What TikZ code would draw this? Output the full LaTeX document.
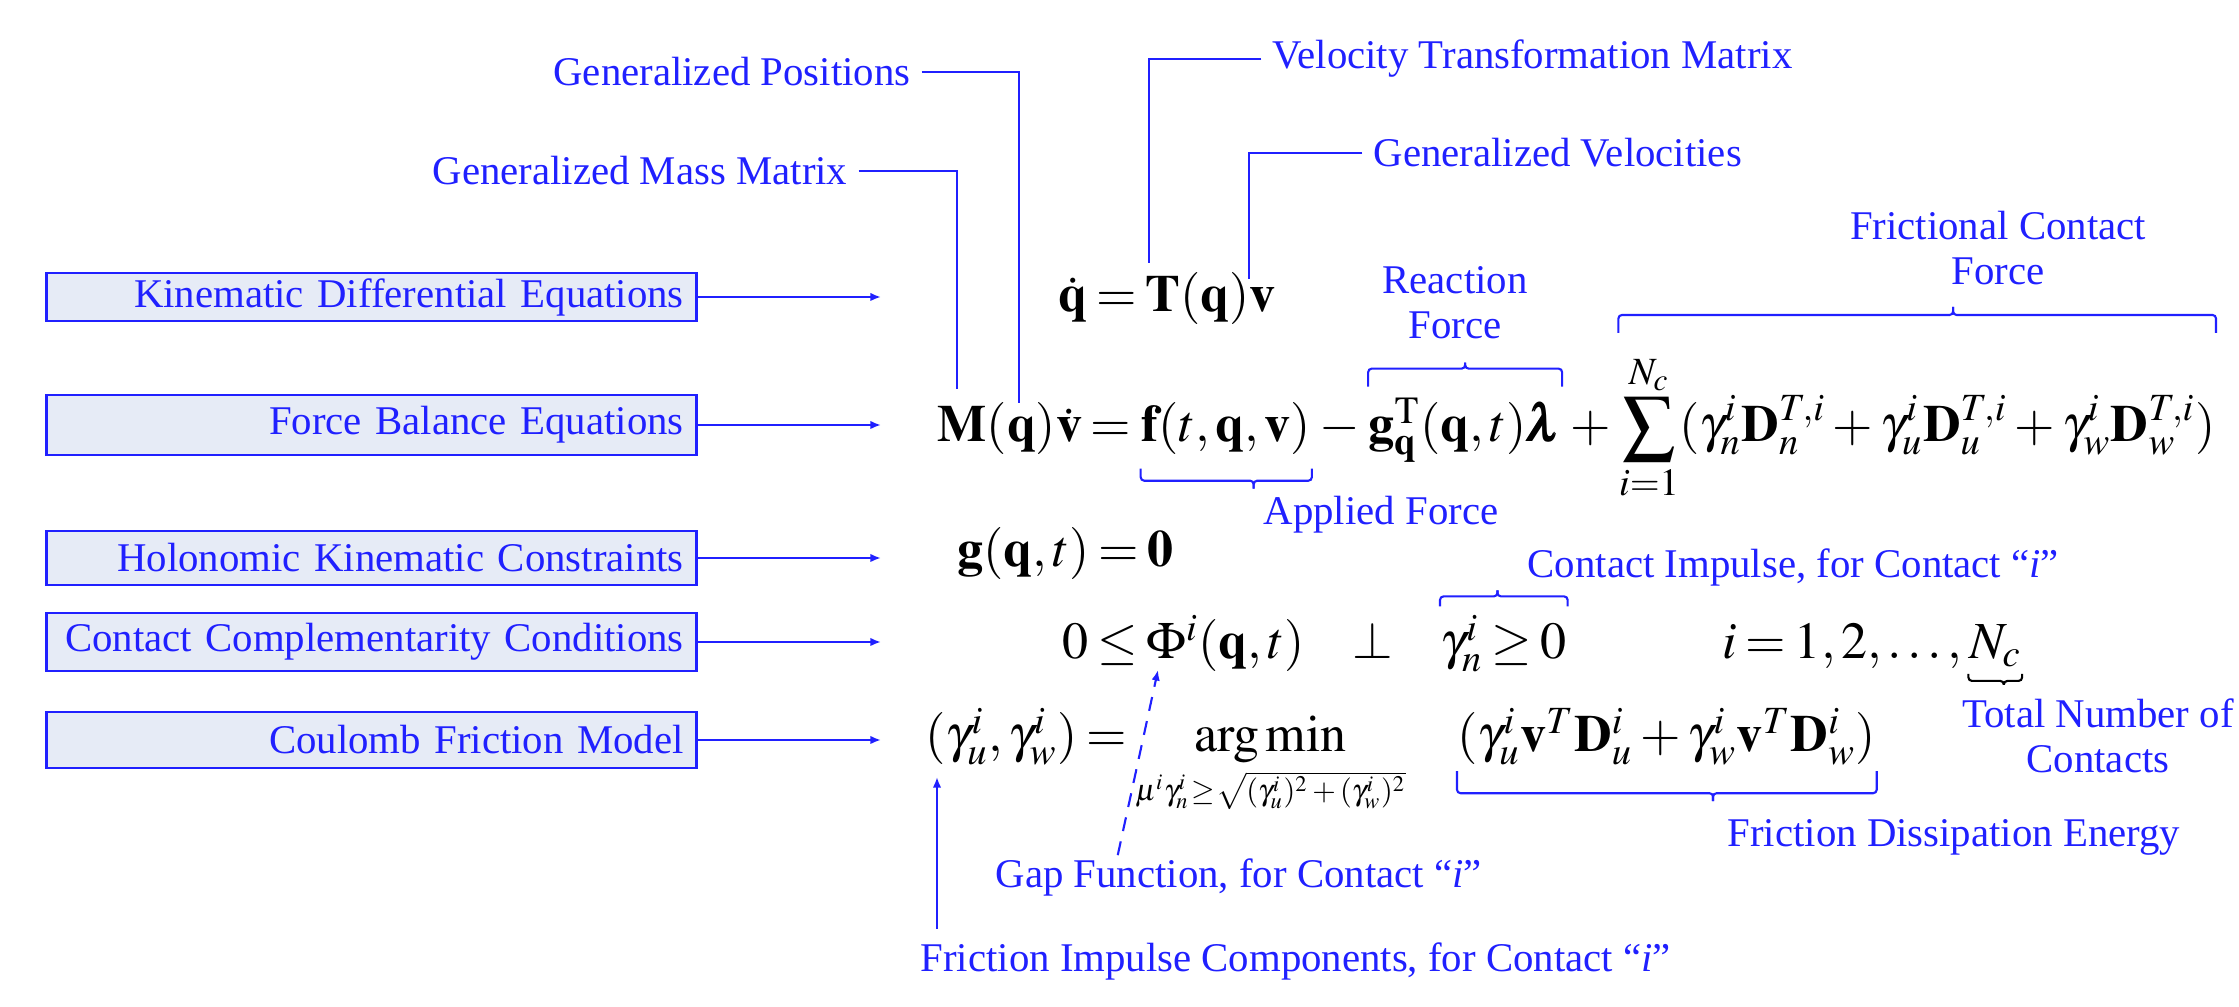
\documentclass[tikz,border=0pt]{standalone}
\usepackage{amsmath}
\usepackage{mathptmx}
\usepackage[no-math]{fontspec}
\setmainfont{Liberation Serif}
\newfontfamily\calloutfam{Liberation Serif}
\usetikzlibrary{arrows.meta,calc,positioning}
\definecolor{callout}{HTML}{2020FF}
\definecolor{boxfill}{HTML}{E6EBF6}
\newcommand\lblfont{\calloutfam\fontsize{11.6pt}{12.8pt}\selectfont}
\newcommand\eqfont{\fontsize{14.8pt}{18pt}\selectfont\thickmuskip=3mu plus 2mu}
% square brace: [colour]{left end}{right end}{tick position}{end length}{tick length}
\newcommand\sqbrace[6][callout]{%
  \path (#2) -- (#3) coordinate[pos=#4] (bmid);
  \draw[lead,draw=#1,rounded corners=1pt] (#2) |- ($(bmid)+(0,#5)$) -- ($(bmid)+(0,{#5+#6})$);
  \draw[lead,draw=#1,rounded corners=1pt] ($(bmid)+(0,{#5+#6})$) -- ($(bmid)+(0,#5)$) -| (#3);}

\begin{document}
\begin{tikzpicture}[x=0.01cm,y=-0.01cm,every node/.style={inner sep=0pt},
  lbl/.style={text=callout,font=\lblfont},
  eqbox/.style={draw=callout,fill=boxfill,text=callout,line width=0.8pt,text width=6.24cm,align=right,
    inner xsep=1.3mm,anchor=west,font=\lblfont},
  eq/.style={anchor=base west,font=\eqfont},
  lead/.style={draw=callout,line width=0.6pt},
  arr/.style={lead,-{Latex[length=3pt,width=2.4pt]}}]
  \useasboundingbox (0,0) rectangle (2239,1007);

  % equation kinds on the left
  \node[eqbox,minimum height=0.48cm] (kde) at (45,297) {Kinematic Differential Equations};
  \node[eqbox,minimum height=0.60cm] (fbe) at (45,425) {Force Balance Equations};
  \node[eqbox,minimum height=0.54cm] (hkc) at (45,558) {Holonomic Kinematic Constraints};
  \node[eqbox,minimum height=0.58cm] (ccc) at (45,642) {Contact Complementarity Conditions};
  \node[eqbox,minimum height=0.56cm] (cfm) at (45,740) {Coulomb Friction Model};
  \coordinate (tgt) at (881,0);
  \foreach \b in {kde,fbe,hkc,ccc,cfm}
    \draw[arr] (\b.east) -- (\b.east -| tgt);

  % the equations
  \node[eq] (qdot) at (1058,312) {$\dot{\mathbf q} = \mathbf T(\mathbf q)\mathbf v$};
  \node[eq] (mv) at (937,442) {$\mathbf M(\mathbf q)\dot{\mathbf v} = {}$};
  \node[eq] (fapp) at (mv.base east) {$\mathbf f(t,\mathbf q,\mathbf v)$};
  \node[eq] (mnus) at (fapp.base east) {${}-{}$};
  \node[eq] (greac) at (mnus.base east) {$\mathbf g_{\mathbf q}^{\mathrm T}(\mathbf q,t)\pmb{\lambda}$};
  \node[eq] (pls) at (greac.base east) {${}+{}$};
  \node[eq] (fsum) at (pls.base east) {$\displaystyle\sum_{i=1}^{N_c}(\gamma_n^i\mathbf D_n^{T,i}+\gamma_u^i\mathbf D_u^{T,i}+\gamma_w^i\mathbf D_w^{T,i})$};
  \node[eq] (hol) at (957,567) {$\mathbf g(\mathbf q,t) = \mathbf 0$};
  \node[eq] (gapeq) at (1062,659) {$0 \le \Phi^i(\mathbf q,t)$};
  \node[eq] (perp) at (1352,659) {$\perp$};
  \node[eq] (cimp) at (1440,659) {$\gamma_n^i \ge 0$};
  \node[eq] (irng) at (1722,659) {$i = 1,2,\ldots,$};
  \node[eq,right=1.5pt of irng.base east,anchor=base west] (ncnt) {$N_c$};
  \node[eq] (fric) at (925,752) {$(\gamma_u^i,\gamma_w^i) = \mathop{\mathrm{arg\,min}}\limits_{\mbox{\fontsize{8.6pt}{9pt}\selectfont\thickmuskip=1mu$\mu^i\gamma_n^i\ge\sqrt{(\gamma_u^i)^2+(\gamma_w^i)^2}$}}$};
  \node[eq] (fdis) at (1457,752) {$(\gamma_u^i\mathbf v^T\mathbf D_u^i+\gamma_w^i\mathbf v^T\mathbf D_w^i)$};

  % callouts
  \node[lbl,anchor=east] (gpos) at (911,72) {Generalized Positions};
  \node[lbl,anchor=east] (gmass) at (848,171) {Generalized Mass Matrix};
  \node[lbl,anchor=west] (vtm) at (1272,59) {Velocity Transformation Matrix};
  \node[lbl,anchor=west] (gvel) at (1373,153) {Generalized Velocities};
  \node[lbl,align=center] (rfor) at (1455,303) {Reaction\\Force};
  \node[lbl,align=center] (fcf) at (1998,248) {Frictional Contact\\Force};
  \node[lbl,anchor=base west] (afor) at (1263,525) {Applied Force};
  \node[lbl,anchor=base west] (cimpl) at (1527,578) {Contact Impulse, for Contact “\textit{i}”};
  \node[lbl,align=center] (tnc) at (2098,736) {Total Number of\\Contacts};
  \node[lbl,anchor=base west] (fde) at (1727,847) {Friction Dissipation Energy};
  \node[lbl,anchor=base west] (gapf) at (995,888) {Gap Function, for Contact “\textit{i}”};
  \node[lbl,anchor=base west] (fimp) at (920,972) {Friction Impulse Components, for Contact “\textit{i}”};

  \coordinate (mq) at (1019,403);
  \coordinate (mm) at (957,389);
  \coordinate (tt) at (1149,263);
  \coordinate (vv) at (1249,279);
  \draw[lead,shorten <=3pt] (gpos.east) -| (mq);
  \draw[lead,shorten <=3pt] (gmass.east) -| (mm);
  \draw[lead,shorten <=3pt] (vtm.west) -| (tt);
  \draw[lead,shorten <=3pt] (gvel.west) -| (vv);

  % braces
  \sqbrace{$(fapp.south west)+(0,13)$}{$(fapp.south east)+(0,13)$}{0.66}{12}{8}
  \sqbrace{$(greac.north west)+(0,-10)$}{$(greac.north east)+(0,-10)$}{0.5}{-18}{-6}
  \sqbrace{$(fsum.north west)+(0,-21)$}{$(fsum.north east)+(0,-21)$}{0.56}{-18}{-8}
  \sqbrace{$(cimp.north west)+(0,-8)$}{$(cimp.north east)+(0,-8)$}{0.45}{-10}{-6}
  \sqbrace{$(fdis.south west)+(0,5)$}{$(fdis.south east)+(0,5)$}{0.61}{22}{8}
  \sqbrace[black]{$(ncnt.south west)+(0,6)$}{$(ncnt.south east)+(0,6)$}{0.66}{7}{4}

  % arrows from below
  \coordinate (phib) at (1158,670);
  \coordinate (gs) at (1117,0);
  \draw[arr,dash pattern=on 4pt off 3pt,shorten <=1pt] (gapf.north -| gs) -- (phib);
  \coordinate (gu) at (937,777);
  \draw[arr,shorten <=4pt] (gu |- fimp.north) -- (gu);
\end{tikzpicture}
\end{document}
